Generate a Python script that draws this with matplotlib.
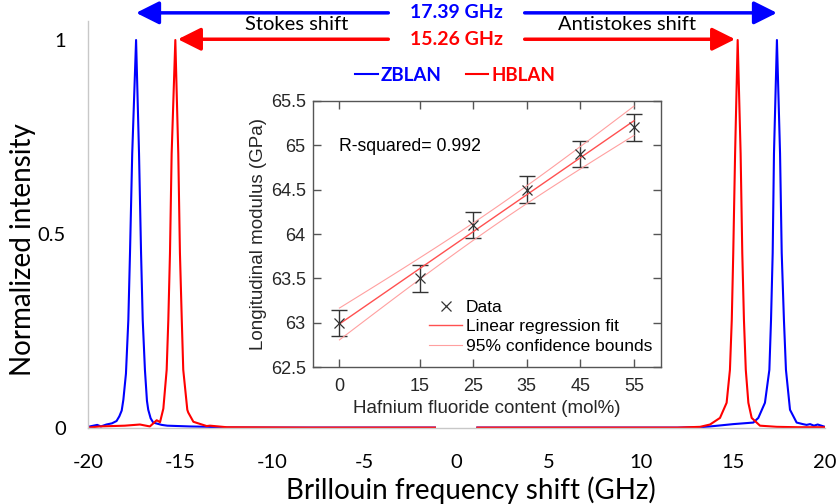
import numpy as np
import matplotlib
matplotlib.use('Agg')
import matplotlib.pyplot as plt

plt.rcParams['font.family'] = ['Lato', 'DejaVu Sans']
plt.rcParams['axes.unicode_minus'] = False

# Brillouin spectra (normalized); nan = removed laser line
zblan_x = [-20.0, -19.7, -19.5, -19.3, -19.0, -18.7, -18.45, -18.3, -18.17, -18.08,
           -17.94, -17.81, -17.72, -17.6, -17.39, -17.23, -17.12, -17.03, -16.91, -16.8,
           -16.73, -16.6, -16.46, -16.0, -15.7, -14.5, -13.5, -12.5, -8.0, -4.0, -1.17,
           np.nan,
           1.13, 5.0, 9.0, 12.0, 13.22, 13.76, 15.02, 16.11, 16.38, 16.74, 16.98, 17.07,
           17.16, 17.23, 17.39, 17.56, 17.65, 17.77, 17.88, 18.1, 18.46, 18.8, 19.0,
           19.19, 19.4, 19.6, 20.0]
zblan_y = [0.003, 0.006, 0.008, 0.004, 0.009, 0.012, 0.018, 0.03, 0.045, 0.073,
           0.14, 0.279, 0.451, 0.707, 1.0, 0.707, 0.451, 0.279, 0.15, 0.07,
           0.047, 0.025, 0.014, 0.008, 0.006, 0.004, 0.003, 0.001, 0.001, 0.001, 0.001,
           np.nan,
           0.001, 0.001, 0.001, 0.001, 0.002, 0.004, 0.01, 0.014, 0.026, 0.065, 0.15, 0.279,
           0.451, 0.707, 1.0, 0.707, 0.451, 0.279, 0.15, 0.047, 0.014, 0.01, 0.008,
           0.01, 0.006, 0.009, 0.003]

hblan_x = [-20.0, -19.35, -18.0, -17.18, -16.64, -16.27, -16.09, -15.91, -15.73, -15.64,
           -15.55, -15.46, -15.26, -15.1, -15.01, -14.91, -14.83, -14.61, -14.56, -14.28,
           -13.56, -13.38, -12.47, -8.0, -4.0, -1.17,
           np.nan,
           1.13, 5.0, 9.0, 12.0, 13.22, 13.76, 14.3, 14.66, 14.84, 14.94, 15.02, 15.12,
           15.26, 15.42, 15.51, 15.6, 15.7, 15.84, 16.02, 16.47, 17.38, 18.5, 20.0]
hblan_y = [0.001, 0.004, 0.006, 0.009, 0.004, 0.02, 0.015, 0.05, 0.15, 0.279,
           0.451, 0.707, 1.0, 0.707, 0.451, 0.279, 0.15, 0.047, 0.04, 0.016,
           0.005, 0.006, 0.002, 0.001, 0.001, 0.001,
           np.nan,
           0.001, 0.001, 0.001, 0.001, 0.003, 0.009, 0.026, 0.065, 0.15, 0.279, 0.451, 0.707,
           1.0, 0.707, 0.451, 0.279, 0.15, 0.065, 0.026, 0.006, 0.003, 0.002, 0.002]

shift_zblan = 17.39
shift_hblan = 15.26

# inset: longitudinal modulus vs HfF4 content
hf_content = [0, 15, 25, 35, 45, 55]
modulus = [63.0, 63.5, 64.1, 64.5, 64.9, 65.2]
modulus_err = [0.15, 0.15, 0.15, 0.15, 0.15, 0.15]
r_squared = 0.992

fig = plt.figure(figsize=(8.38, 5.04), dpi=100)
ax = fig.add_axes([0.105, 0.1508, 0.8795, 0.8083])

ax.plot(zblan_x, zblan_y, color='#0000ff', lw=1.5, label='ZBLAN')
ax.plot(hblan_x, hblan_y, color='#ff0000', lw=1.5, label='HBLAN')

ax.set_xlim(-20, 20)
ax.set_ylim(0, 1.05)
ax.set_xticks(range(-20, 21, 5))
ax.set_yticks([0, 0.5, 1])
ax.set_yticklabels(['0', '0.5', '1'])
ax.tick_params(length=0, labelsize=14.5, pad=16)
ax.tick_params(axis='x', pad=19)
for s in ['top', 'right']:
    ax.spines[s].set_visible(False)
for s in ['left', 'bottom']:
    ax.spines[s].set_color('#c8c8c8')
    ax.spines[s].set_linewidth(1)

fig.text(0.027, 0.505, 'Normalized intensity', rotation=90, ha='center', va='center', fontsize=20)
fig.text(0.562, 0.028, 'Brillouin frequency shift (GHz)', ha='center', va='center', fontsize=20)

# shift arrows, broken in the middle for the labels
gap = 3.7
for sh, y, c in [(shift_zblan, 1.07, '#0000ff'), (shift_hblan - 0.14, 1.002, '#ff0000')]:
    for a, b in [(-gap, -sh), (gap, sh)]:
        ax.annotate('', xy=(b, y), xytext=(a, y), annotation_clip=False,
                    arrowprops=dict(arrowstyle='-|>,head_length=0.7,head_width=0.35',
                                    color=c, lw=2.5, shrinkA=0, shrinkB=0, mutation_scale=20))
ax.text(0, 1.07, f'{shift_zblan:.2f} GHz', color='#0000ff', fontsize=14, fontweight='bold',
        ha='center', va='center', clip_on=False)
ax.text(0, 1.002, f'{shift_hblan:.2f} GHz', color='#ff0000', fontsize=14, fontweight='bold',
        ha='center', va='center', clip_on=False)
ax.text(-8.66, 1.041, 'Stokes shift', fontsize=14.5, ha='center', va='center', clip_on=False)
ax.text(9.28, 1.041, 'Antistokes shift', fontsize=14.5, ha='center', va='center', clip_on=False)

ax.legend(loc='center', bbox_to_anchor=(0.498, 0.866), ncol=2, frameon=False,
          handlelength=1.2, handletextpad=0.15, columnspacing=1.3,
          prop={'weight': 'bold', 'size': 13.5}, labelcolor='linecolor')

# inset
ins = fig.add_axes([0.3731, 0.2712, 0.4153, 0.529])
ins.set_facecolor('white')
inset_font = ['Liberation Sans', 'DejaVu Sans']
gray = '#262626'

x = np.array(hf_content, dtype=float)
y = np.array(modulus)
p = np.polyfit(x, y, 1)
xf = np.linspace(0, 55, 100)
yf = np.polyval(p, xf)
resid = y - np.polyval(p, x)
s = np.sqrt(np.sum(resid ** 2) / (len(x) - 2))
half = 2.776 * s * np.sqrt(1 / len(x) + (xf - x.mean()) ** 2 / np.sum((x - x.mean()) ** 2))

ins.errorbar(x, y, yerr=modulus_err, fmt='none', ecolor='#333333', elinewidth=1,
             capsize=5.5, capthick=1, zorder=2)
ins.plot(x, y, 'x', color='#333333', ms=6.5, mew=0.9, label='Data', zorder=3)
ins.plot(xf, yf, color='#ff5050', lw=1, label='Linear regression fit')
ins.plot(xf, yf + half, color='#ffa0a0', lw=0.8, label='95% confidence bounds')
ins.plot(xf, yf - half, color='#ffa0a0', lw=0.8)

ins.set_xlim(-5, 60)
ins.set_ylim(62.5, 65.5)
ins.set_xticks(hf_content)
yt = [62.5, 63, 63.5, 64, 64.5, 65, 65.5]
ins.set_yticks(yt)
ins.set_yticklabels([f'{v:g}' for v in yt])
ins.tick_params(direction='in', length=6, width=1, color='#555555', labelcolor=gray,
                labelsize=13, top=True, right=True)
ins.tick_params(axis='x', pad=8)
ins.tick_params(axis='y', pad=5)
for lab in ins.get_xticklabels() + ins.get_yticklabels():
    lab.set_family(inset_font)
for sp in ins.spines.values():
    sp.set_color('#555555')
    sp.set_linewidth(1)
ins.set_xlabel('Hafnium fluoride content (mol%)', fontsize=13.5, family=inset_font, color=gray, labelpad=3)
ins.set_ylabel('Longitudinal modulus (GPa)', fontsize=13.5, family=inset_font, color=gray, labelpad=3)
ins.text(0, 64.98, f'R-squared= {r_squared}', fontsize=12.7, family=inset_font, va='center')
ins.legend(loc='lower left', bbox_to_anchor=(0.315, 0.025), frameon=False, handlelength=1.9,
           handletextpad=0.2, prop={'family': inset_font, 'size': 12.5}, labelspacing=0.25,
           borderaxespad=0)

fig.savefig('out.png', dpi=100)
